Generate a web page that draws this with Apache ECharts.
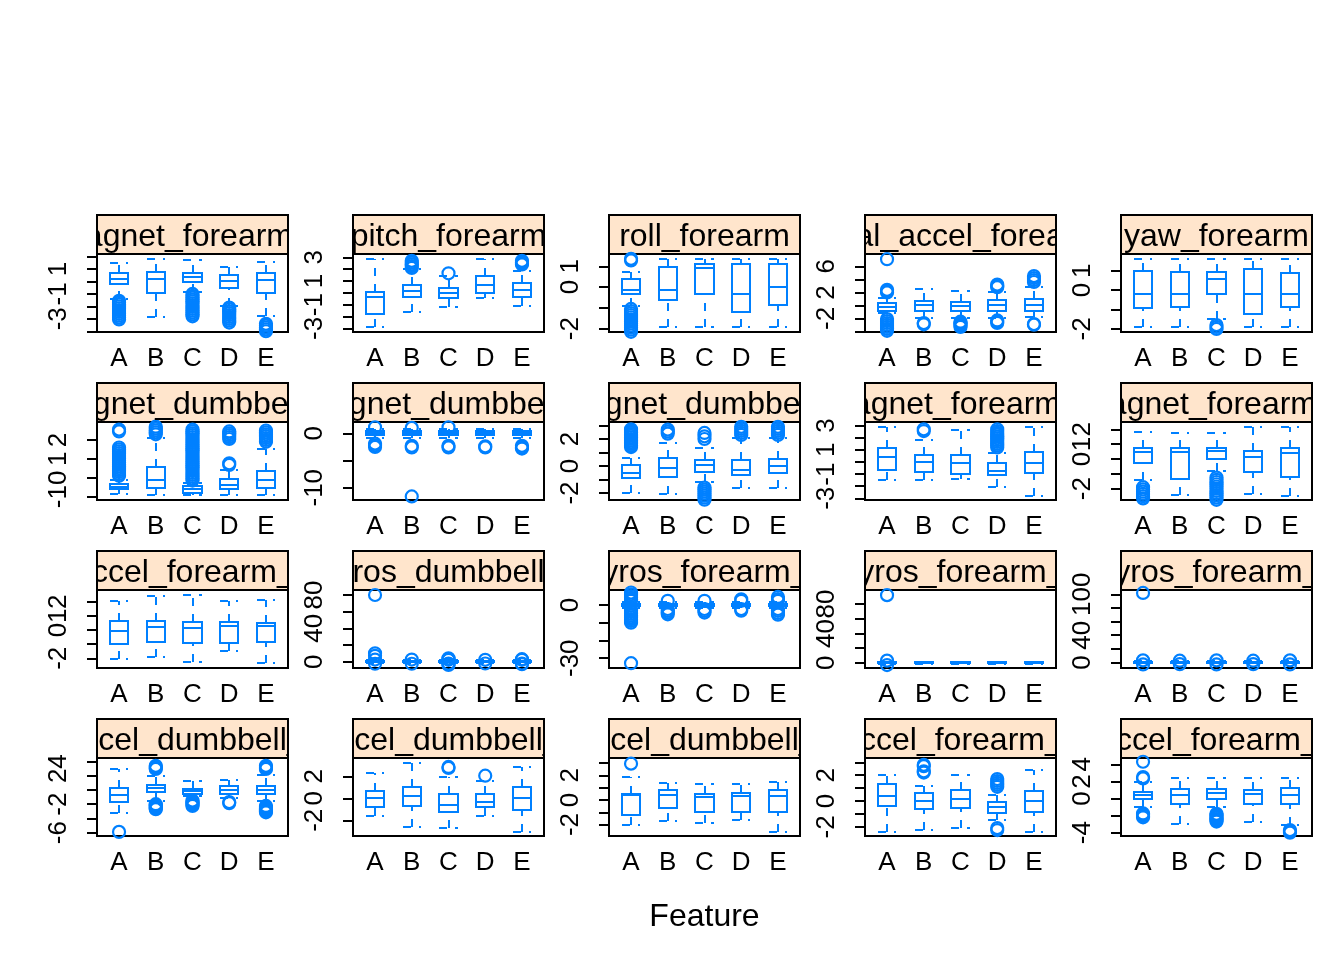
<!DOCTYPE html>
<html><head><meta charset="utf-8">
<script src="https://cdn.jsdelivr.net/npm/echarts@6/dist/echarts.min.js"></script>
<style>html,body{margin:0;padding:0;background:#fff}#c{width:1344px;height:960px}</style>
</head><body><div id="c"></div>
<script>
// ---------------- data ----------------
const categories = ['A', 'B', 'C', 'D', 'E'];
const features = [
  'magnet_forearm_z', 'pitch_forearm', 'roll_forearm', 'total_accel_forearm', 'yaw_forearm',
  'magnet_dumbbell_x', 'magnet_dumbbell_y', 'magnet_dumbbell_z', 'magnet_forearm_x', 'magnet_forearm_y',
  'accel_forearm_z', 'gyros_dumbbell_y', 'gyros_forearm_x', 'gyros_forearm_y', 'gyros_forearm_z',
  'accel_dumbbell_x', 'accel_dumbbell_y', 'accel_dumbbell_z', 'accel_forearm_x', 'accel_forearm_y'
];
const xLabel = 'Feature';

// y limits per panel (same order as features)
const yLimits = [
  [-4.06, 2.21], [-3.31, 3.28], [-2.16, 1.59], [-4.08, 7.9], [-2.16, 1.86],
  [-1.18, 2.95], [-12.26, 2.08], [-2.52, 3.26], [-3.14, 3.3], [-2.76, 2.49],
  [-2.69, 2.83], [-7.6, 86], [-35.5, 8.4], [-7, 99], [-8.2, 106.3],
  [-6.48, 4.5], [-3.43, 3.66], [-2.93, 3.41], [-2.71, 3.33], [-4.39, 4.74]
];
const yTicks = [
  [-4, -3, -2, -1, 0, 1, 2], [-3, -2, -1, 0, 1, 2, 3], [-2, -1, 0, 1], [-4, -2, 0, 2, 4, 6], [-2, -1, 0, 1],
  [-1, 0, 1, 2], [-10, -5, 0], [-2, -1, 0, 1, 2, 3], [-3, -2, -1, 0, 1, 2, 3], [-2, -1, 0, 1, 2],
  [-2, -1, 0, 1, 2], [0, 20, 40, 60, 80], [-30, -20, -10, 0], [0, 20, 40, 60, 80], [0, 20, 40, 60, 80, 100],
  [-6, -4, -2, 0, 2, 4], [-2, 0, 2], [-2, -1, 0, 1, 2, 3], [-2, -1, 0, 1, 2, 3], [-4, -2, 0, 2, 4]
];
const yTickLabels = [
  [-3, -1, 1], [-3, -1, 1, 3], [-2, 0, 1], [-2, 2, 6], [-2, 0, 1],
  [-1, 0, 1, 2], [-10, 0], [-2, 0, 2], [-3, -1, 1, 3], [-2, 0, 1, 2],
  [-2, 0, 1, 2], [0, 40, 80], [-30, 0], [0, 40, 80], [0, 40, 100],
  [-6, -2, 2, 4], [-2, 0, 2], [-2, 0, 2], [-2, 0, 2], [-4, 0, 2, 4]
];

// box stats per class: [lower whisker, Q1, median, Q3, upper whisker]
const box_magnet_forearm_z = [[-1.4, -0.22, 0.18, 0.71, 1.46], [-2.83, -0.95, 0.18, 0.76, 1.81], [-0.85, -0.02, 0.34, 0.71, 1.73], [-1.95, -0.55, 0.04, 0.52, 1.14], [-2.75, -0.9, 0.12, 0.66, 1.59]];
const box_pitch_forearm = [[-2.9, -1.79, -0.33, 0.09, 2.83], [-1.65, -0.33, 0.18, 0.66, 1.99], [-1.17, -0.41, 0.01, 0.43, 1.42], [-0.46, 0.01, 0.66, 1.42, 2.83], [-1.12, -0.33, 0.24, 0.8, 1.87]];
const box_roll_forearm = [[-0.9, -0.34, -0.14, 0.37, 0.74], [-1.94, -0.63, -0.14, 0.98, 1.33], [-1.94, -0.34, 0.9, 1.1, 1.33], [-1.94, -1.19, -0.34, 1.1, 1.33], [-1.94, -0.87, 0.01, 1.1, 1.33]];
const box_total_accel_forearm = [[-1.2, -0.8, -0.18, 0.34, 1.1], [-2.0, -0.8, 0.08, 0.74, 2.5], [-2.0, -0.8, -0.08, 0.58, 2.28], [-1.9, -0.8, 0.08, 0.85, 2.0], [-1.7, -0.8, 0.08, 0.95, 2.8]];
const box_yaw_forearm = [[-1.92, -0.94, -0.21, 0.99, 1.58], [-1.92, -0.89, -0.21, 0.91, 1.58], [-1.5, -0.21, 0.55, 0.91, 1.58], [-1.92, -1.24, -0.21, 1.07, 1.58], [-1.92, -0.86, -0.21, 0.86, 1.58]];
const box_magnet_dumbbell_x = [[-0.88, -0.6, -0.48, -0.35, -0.12], [-0.92, -0.56, -0.12, 0.58, 2.08], [-0.92, -0.83, -0.61, -0.44, -0.3], [-0.92, -0.61, -0.39, -0.08, 0.4], [-0.92, -0.53, -0.12, 0.37, 1.5]];
const box_magnet_dumbbell_y = [[-0.9, -0.3, 0.05, 0.35, 0.8], [-0.9, -0.3, 0.05, 0.35, 0.8], [-0.9, -0.3, 0.05, 0.35, 0.8], [-0.9, -0.3, 0.05, 0.35, 0.8], [-0.9, -0.3, 0.05, 0.35, 0.8]];
const box_magnet_dumbbell_z = [[-2.02, -0.91, -0.54, 0.07, 0.57], [-2.1, -0.84, -0.17, 0.57, 1.7], [-1.2, -0.42, 0.07, 0.44, 1.3], [-1.65, -0.67, -0.3, 0.44, 2.05], [-1.65, -0.54, 0.0, 0.5, 2.05]];
const box_magnet_forearm_x = [[-1.49, -0.66, 0.44, 1.18, 2.92], [-1.49, -0.8, 0.02, 0.58, 1.8], [-1.43, -0.99, -0.11, 0.58, 2.64], [-2.04, -1.07, -0.72, -0.06, 0.7], [-2.81, -0.93, -0.11, 0.8, 2.92]];
const box_magnet_forearm_y = [[-1.41, -0.29, 0.49, 0.76, 1.84], [-2.42, -1.35, 0.49, 0.76, 1.73], [-0.8, -0.02, 0.54, 0.72, 1.73], [-2.36, -0.88, 0.16, 0.56, 2.18], [-2.49, -1.19, 0.38, 0.72, 2.18]];
const box_accel_forearm_z = [[-2.05, -0.99, -0.07, 0.64, 2.07], [-1.89, -0.87, 0.23, 0.64, 2.4], [-2.24, -0.94, 0.12, 0.59, 2.47], [-1.48, -0.94, 0.28, 0.59, 2.05], [-2.35, -0.87, 0.28, 0.52, 2.12]];
const box_gyros_dumbbell_y = [[-1.5, -0.5, 0, 0.5, 1.5], [-1.5, -0.5, 0, 0.5, 1.5], [-1.5, -0.5, 0, 0.5, 1.5], [-1.5, -0.5, 0, 0.5, 1.5], [-1.5, -0.5, 0, 0.5, 1.5]];
const box_gyros_forearm_x = [[-1.8, -0.5, 0, 0.5, 1.8], [-1.8, -0.5, 0, 0.5, 1.8], [-1.8, -0.5, 0, 0.5, 1.8], [-1.8, -0.5, 0, 0.5, 1.8], [-1.8, -0.5, 0, 0.5, 1.8]];
const box_gyros_forearm_y = [[-1.5, -0.5, 0, 0.5, 1.5], [-1.5, -0.5, 0, 0.5, 1.5], [-1.5, -0.5, 0, 0.5, 1.5], [-1.5, -0.5, 0, 0.5, 1.5], [-1.5, -0.5, 0, 0.5, 1.5]];
const box_gyros_forearm_z = [[-1.5, -0.5, 0, 0.5, 1.5], [-1.5, -0.5, 0, 0.5, 1.5], [-1.5, -0.5, 0, 0.5, 1.5], [-1.5, -0.5, 0, 0.5, 1.5], [-1.5, -0.5, 0, 0.5, 1.5]];
const box_accel_dumbbell_x = [[-3.2, -1.73, -0.7, 0.32, 2.96], [-1.55, -0.32, 0.24, 0.7, 2.0], [-0.8, -0.56, -0.14, 0.14, 1.3], [-1.1, -0.56, 0.0, 0.6, 1.41], [-1.5, -0.56, 0.0, 0.6, 2.1]];
const box_accel_dumbbell_y = [[-1.58, -0.76, 0, 0.66, 2.27], [-2.58, -0.67, 0.21, 1.05, 3.24], [-2.73, -1.27, -0.61, 0.39, 1.96], [-1.58, -0.76, -0.31, 0.39, 1.55], [-3.04, -1.06, 0, 1.05, 2.85]];
const box_accel_dumbbell_z = [[-2.03, -1.22, 0.41, 0.49, 1.9], [-1.71, -0.67, 0.41, 0.81, 1.41], [-1.85, -0.95, 0.27, 0.46, 1.28], [-1.63, -0.95, 0.35, 0.54, 1.28], [-2.58, -0.95, 0.33, 0.81, 1.49]];
const box_accel_forearm_x = [[-2.38, -0.36, 0.41, 1.29, 2.02], [-2.25, -0.64, 0.02, 0.6, 1.19], [-2.12, -0.57, 0.16, 0.85, 2.02], [-1.47, -0.95, -0.49, -0.1, 0.47], [-2.38, -0.83, 0.0, 0.78, 2.4]];
const box_accel_forearm_y = [[-0.96, -0.06, 0.41, 0.8, 1.96], [-3.02, -0.68, 0.41, 1.11, 2.43], [-0.96, -0.06, 0.61, 1.11, 2.43], [-2.71, -0.68, 0.49, 0.99, 2.43], [-3.1, -0.68, 0.41, 1.19, 2.43]];

// outliers per class (A..E)
const out_magnet_forearm_z = [[-1.55, -1.7, -1.85, -2.0, -2.15, -2.3, -2.45, -2.6, -2.75, -2.9, -3.05], [], [-1.0, -1.15, -1.3, -1.45, -1.6, -1.75, -1.9, -2.05, -2.2, -2.35, -2.5, -2.65, -2.8], [-2.1, -2.25, -2.4, -2.55, -2.7, -2.85, -3.0, -3.15, -3.3], [-3.4, -3.55, -3.7, -3.85, -4.0]];
const out_pitch_forearm = [[], [2.1, 2.25, 2.4, 2.55, 2.7], [1.65], [], [2.4, 2.5, 2.6, 2.7]];
const out_roll_forearm = [[1.28, 1.36, -1.05, -1.15, -1.25, -1.35, -1.45, -1.55, -1.65, -1.75, -1.85, -1.95, -2.05, -2.15], [], [], [], []];
const out_total_accel_forearm = [[7.1, 2.0, 2.2, 2.4, -2.1, -2.4, -2.7, -3.0, -3.3, -3.6, -3.9], [-2.7, -2.9], [-2.5, -2.7, -2.9, -3.1, -3.3], [2.8, 3.0, 3.2, -2.3, -2.5, -2.7], [3.6, 3.9, 4.2, 4.5, -2.85, -2.95]];
const out_yaw_forearm = [[], [], [-1.8, -1.9, -2.0], [], []];
const out_magnet_dumbbell_x = [[0.1, 0.2, 0.3, 0.4, 0.5, 0.6, 0.7, 0.8, 0.9, 1.0, 1.1, 1.2, 1.3, 1.4, 1.5, 1.6, 2.45, 2.55], [2.3, 2.4, 2.5, 2.6, 2.7], [-0.15, -0.05, 0.05, 0.15, 0.25, 0.35, 0.45, 0.55, 0.65, 0.75, 0.85, 0.95, 1.05, 1.15, 1.25, 1.35, 1.45, 1.55, 1.65, 1.75, 1.85, 1.95, 2.05, 2.15, 2.25, 2.35, 2.45, 2.55], [0.68, 0.76, 2.05, 2.15, 2.25, 2.35, 2.45], [1.9, 2.0, 2.1, 2.2, 2.3, 2.4, 2.5]];
const out_magnet_dumbbell_y = [[1.1, -1.9, -2.2, -2.5], [1.0, -2.3, -2.6, -11.6], [1.1, -2.3, -2.6], [-2.4, -2.6], [-2.3, -2.6, -2.8]];
const out_magnet_dumbbell_z = [[1.4, 1.52, 1.64, 1.76, 1.88, 2.0, 2.12, 2.24, 2.36, 2.48, 2.6, 2.72], [2.4, 2.55, 2.7], [2.0, 2.2, 2.45, -1.6, -1.75, -1.9, -2.05, -2.2, -2.35, -2.5], [2.3, 2.45, 2.6, 2.75, 2.9], [2.3, 2.45, 2.6, 2.75, 2.9]];
const out_magnet_forearm_x = [[], [2.55, 2.7], [], [1.2, 1.35, 1.5, 1.65, 1.8, 1.95, 2.1, 2.25, 2.4, 2.55, 2.7], []];
const out_magnet_forearm_y = [[-1.9, -2.05, -2.2, -2.35, -2.5, -2.65, -2.8], [], [-1.25, -1.4, -1.55, -1.7, -1.85, -2.0, -2.15, -2.3, -2.45, -2.6, -2.75], [], []];
const out_accel_forearm_z = [[], [], [], [], []];
const out_gyros_dumbbell_y = [[80, 10, 7, 2.5, -2.5], [2.5, -2.5], [2.2, 3, 4, -2.2, -3, -4], [2.2, -2.2], [3, 2.2, -2.2, -3]];
const out_gyros_forearm_x = [[7, 6, 5, 4, 3, 2.3, -2.3, -3, -4, -5, -6, -7, -8, -9, -10, -32.8], [2.3, -2.3, -3.3, -4.3, -5.3], [2.3, -2.3, -3.3, -4.3], [3.2, 2.3, -2.3, -3.2], [4.5, 3.3, 2.3, -2.3, -3.3, -4.5, -5.5]];
const out_gyros_forearm_y = [[92, 3, -3], [], [], [], []];
const out_gyros_forearm_z = [[102, 3, -3], [2.5, -2.5], [3, -3], [2.5, -2.5], [3, -3]];
const out_accel_dumbbell_x = [[-5.9], [2.95, 3.1, 3.25, 3.4, -2.0, -2.15, -2.3, -2.45, -2.6, -2.7], [-1.5, -1.65, -1.8, -1.95, -2.1, -2.25], [-1.7, -1.85], [2.95, 3.1, 3.25, 3.4, -2.25, -2.4, -2.55, -2.7, -2.85, -3.0, -3.15]];
const out_accel_dumbbell_y = [[], [], [2.75, 2.85], [2.05], []];
const out_accel_dumbbell_z = [[2.95], [], [], [], []];
const out_accel_forearm_x = [[], [2.2, 2.3, 2.7, 2.8], [], [1.1, 1.25, 1.4, 1.55, 1.7, -2.1, -2.25], []];
const out_accel_forearm_y = [[4.3, 2.35, 2.5, -1.75, -1.9, -2.05, -2.2], [], [-1.8, -1.95, -2.1, -2.25, -2.4, -2.55, -2.7], [], [-3.7, -3.85, -4.0]];

const boxes = [box_magnet_forearm_z, box_pitch_forearm, box_roll_forearm, box_total_accel_forearm, box_yaw_forearm,
  box_magnet_dumbbell_x, box_magnet_dumbbell_y, box_magnet_dumbbell_z, box_magnet_forearm_x, box_magnet_forearm_y,
  box_accel_forearm_z, box_gyros_dumbbell_y, box_gyros_forearm_x, box_gyros_forearm_y, box_gyros_forearm_z,
  box_accel_dumbbell_x, box_accel_dumbbell_y, box_accel_dumbbell_z, box_accel_forearm_x, box_accel_forearm_y];
const outliers = [out_magnet_forearm_z, out_pitch_forearm, out_roll_forearm, out_total_accel_forearm, out_yaw_forearm,
  out_magnet_dumbbell_x, out_magnet_dumbbell_y, out_magnet_dumbbell_z, out_magnet_forearm_x, out_magnet_forearm_y,
  out_accel_forearm_z, out_gyros_dumbbell_y, out_gyros_forearm_x, out_gyros_forearm_y, out_gyros_forearm_z,
  out_accel_dumbbell_x, out_accel_dumbbell_y, out_accel_dumbbell_z, out_accel_forearm_x, out_accel_forearm_y];

// ---------------- layout / style ----------------
const FONT = '"Liberation Sans", Arial, Helvetica, sans-serif';
const BLUE = '#0080FF';
const colLeft = [97, 353, 609, 865, 1121];
const rowTop = [254, 422, 590, 758];
const PW = 191, PH = 78, SH = 39;
const BOXW = 0.5;
const DASH = [8, 8];
const YLABEL_GAP = 25;

const grids = [], xAxes = [], yAxes = [], series = [];

function px(p) { return [Math.round(p[0]), Math.round(p[1])]; }

function boxRender(params, api) {
  const x = api.value(0);
  const lw = api.value(1), q1 = api.value(2), md = api.value(3), q3 = api.value(4), uw = api.value(5);
  const h = BOXW / 2;
  const tl = px(api.coord([x - h, q3]));
  const br = px(api.coord([x + h, q1]));
  const mL = px(api.coord([x - h, md])), mR = px(api.coord([x + h, md]));
  const cq3 = px(api.coord([x, q3])), cuw = px(api.coord([x, uw]));
  const clw = px(api.coord([x, lw])), cq1 = px(api.coord([x, q1]));
  const uL = px(api.coord([x - h, uw])), uR = px(api.coord([x + h, uw]));
  const lL = px(api.coord([x - h, lw])), lR = px(api.coord([x + h, lw]));
  const solid = { stroke: BLUE, lineWidth: 2, fill: null };
  const dashed = { stroke: BLUE, lineWidth: 2, fill: null, lineDash: DASH };
  return {
    type: 'group',
    children: [
      { type: 'line', shape: { x1: cq3[0], y1: cq3[1], x2: cuw[0], y2: cuw[1] }, style: dashed },
      { type: 'line', shape: { x1: clw[0], y1: clw[1], x2: cq1[0], y2: cq1[1] }, style: dashed },
      { type: 'line', shape: { x1: uL[0], y1: uL[1], x2: uR[0], y2: uR[1] }, style: dashed },
      { type: 'line', shape: { x1: lL[0], y1: lL[1], x2: lR[0], y2: lR[1] }, style: dashed },
      { type: 'rect', shape: { x: tl[0], y: tl[1], width: br[0] - tl[0], height: br[1] - tl[1] }, style: solid },
      { type: 'line', shape: { x1: mL[0], y1: mL[1], x2: mR[0], y2: mR[1] }, style: solid }
    ]
  };
}

function yLabelRender(params, api) {
  const v = api.value(1);
  const p = api.coord([api.value(0), v]);
  return {
    type: 'text', x: params.coordSys.x - YLABEL_GAP, y: p[1], rotation: Math.PI / 2,
    style: { text: String(v), fontSize: 26, fontFamily: FONT, fill: '#000', align: 'center', verticalAlign: 'bottom' }
  };
}

features.forEach((name, i) => {
  const r = Math.floor(i / 5), c = i % 5;
  const left = colLeft[c], top = rowTop[r];
  grids.push({ left: left, top: top, width: PW, height: PH, show: true, borderColor: '#000', borderWidth: 2, backgroundColor: 'transparent' });
  xAxes.push({
    gridIndex: i, type: 'value', min: 0.4, max: 5.6,
    axisLine: { show: false }, axisTick: { show: false }, splitLine: { show: false },
    axisLabel: { customValues: [1, 2, 3, 4, 5], hideOverlap: false, formatter: v => categories[Math.round(v) - 1], fontSize: 26, color: '#000', fontFamily: FONT, margin: 14 }
  });
  yAxes.push({
    gridIndex: i, type: 'value', min: yLimits[i][0], max: yLimits[i][1],
    axisLine: { show: false }, splitLine: { show: false },
    axisTick: { show: true, customValues: yTicks[i], length: 10, lineStyle: { color: '#000', width: 2 } },
    axisLabel: { show: false }
  });
  series.push({
    type: 'custom', xAxisIndex: i, yAxisIndex: i, clip: true, silent: true,
    data: boxes[i].map((s, k) => [k + 1].concat(s)),
    encode: { x: 0, y: [1, 2, 3, 4, 5] },
    renderItem: boxRender, z: 3
  });
  const pts = [];
  outliers[i].forEach((arr, k) => arr.forEach(v => pts.push([k + 1, v])));
  series.push({
    type: 'scatter', xAxisIndex: i, yAxisIndex: i, clip: true, silent: true,
    symbol: 'circle', symbolSize: 12,
    itemStyle: { color: 'rgba(0,0,0,0)', borderColor: BLUE, borderWidth: 2.2, opacity: 1 },
    data: pts, z: 4
  });
  // y tick labels (drawn through the y scale, placed left of the panel)
  series.push({
    type: 'custom', xAxisIndex: i, yAxisIndex: i, clip: false, silent: true,
    data: yTickLabels[i].map(v => [1, v]),
    encode: { x: 0, y: 1 },
    renderItem: yLabelRender, z: 5
  });
});

// strips
features.forEach((name, i) => {
  const r = Math.floor(i / 5), c = i % 5;
  const gi = 20 + i;
  grids.push({ left: colLeft[c], top: rowTop[r] - SH, width: PW, height: SH, show: true, backgroundColor: '#FFE5CC', borderColor: '#000', borderWidth: 2 });
  xAxes.push({ gridIndex: gi, type: 'value', min: 0, max: 1, show: false });
  yAxes.push({ gridIndex: gi, type: 'value', min: 0, max: 1, show: false });
  series.push({
    type: 'custom', xAxisIndex: gi, yAxisIndex: gi, clip: true, silent: true,
    data: [[0.5, 0.5]],
    renderItem: function (params, api) {
      const p = api.coord([api.value(0), api.value(1)]);
      return { type: 'text', x: p[0], y: p[1] + 3, style: { text: name, fontSize: 32, fontFamily: FONT, fill: '#000', align: 'center', verticalAlign: 'middle' } };
    },
    z: 5
  });
});

const chart = echarts.init(document.getElementById('c'), null, { renderer: 'canvas' });
chart.setOption({
  animation: false,
  backgroundColor: '#fff',
  grid: grids, xAxis: xAxes, yAxis: yAxes, series: series,
  graphic: [{ type: 'text', x: 704.5, y: 917, style: { text: xLabel, fontSize: 32, fontFamily: FONT, fill: '#000', align: 'center', verticalAlign: 'middle' } }]
});
</script>
</body></html>
